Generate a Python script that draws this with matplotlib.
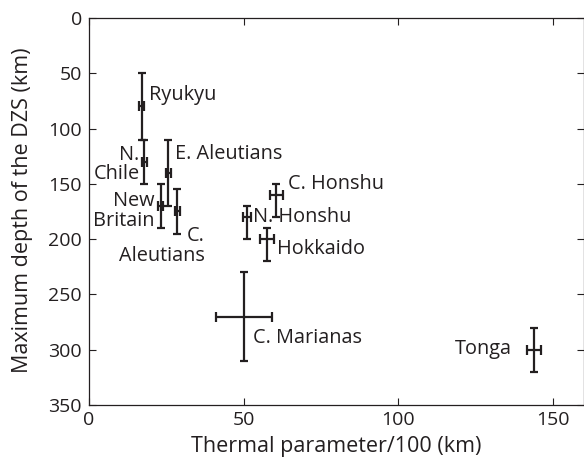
import matplotlib
matplotlib.use('Agg')
import matplotlib.pyplot as plt
import numpy as np

plt.rcParams['font.family'] = ['Open Sans', 'DejaVu Sans']

# subduction zones
names = ['Ryukyu', 'N. Chile', 'E. Aleutians', 'New Britain', 'C. Aleutians',
         'N. Honshu', 'C. Honshu', 'Hokkaido', 'C. Marianas', 'Tonga']
thermal = [17.1, 17.9, 25.6, 23.2, 28.6, 51.0, 60.6, 57.5, 50.0, 143.8]
thermal_err = [0.8, 0.8, 0.8, 0.8, 0.8, 1.3, 2.2, 2.2, 9.0, 2.3]
depth = [80, 130, 140, 170, 175, 180, 160, 200, 270, 300]
depth_lo = [50, 110, 110, 150, 155, 170, 150, 190, 230, 280]
depth_hi = [110, 150, 170, 190, 195, 200, 180, 220, 310, 320]

# label text, position, alignment
labels = ['Ryukyu', 'N.\nChile', 'E. Aleutians', 'New\nBritain', 'C.\nAleutians',
          'N. Honshu', 'C. Honshu', 'Hokkaido', 'C. Marianas', 'Tonga']
label_x = [19.5, 16.4, 27.8, 21.2, 37.3, 53.1, 64.4, 60.7, 53.0, 136.6]
label_y = [69.6, 132.5, 123, 174.5, 206, 180, 150, 209, 289, 299.5]
label_ha = ['left', 'right', 'left', 'right', 'right',
            'left', 'left', 'left', 'left', 'right']

ink = '#231f20'

fig = plt.figure(figsize=(5.84, 4.61), dpi=100)
ax = fig.add_axes([0.1524, 0.1215, 0.8476, 0.8395])

d = np.array(depth)
yerr = [d - np.array(depth_lo), np.array(depth_hi) - d]
# vertical bars (depth range) and horizontal bars (thermal parameter range)
ax.errorbar(thermal, depth, yerr=yerr, fmt='none',
            ecolor=ink, elinewidth=1.6, capsize=2.6, capthick=1.6)
ax.errorbar(thermal, depth, xerr=thermal_err, fmt='none',
            ecolor=ink, elinewidth=1.6, capsize=3.6, capthick=1.6)

for t, x, y, ha in zip(labels, label_x, label_y, label_ha):
    ax.text(x, y, t, ha=ha, va='center', multialignment=ha,
            fontsize=14.3, color=ink, linespacing=0.98)

ax.set_xlim(0, 160)
ax.set_ylim(350, 0)
ax.set_xticks([0, 50, 100, 150])
ax.set_yticks(np.arange(0, 351, 50))
ax.tick_params(direction='in', top=True, right=True, length=5, width=0.8,
               labelsize=14, colors=ink)
ax.tick_params(axis='x', pad=4)
ax.tick_params(axis='y', pad=5)
for s in ax.spines.values():
    s.set_color(ink)
    s.set_linewidth(0.9)

ax.set_xlabel('Thermal parameter/100 (km)', fontsize=15.5, color=ink)
ax.set_ylabel('Maximum depth of the DZS (km)', fontsize=15.5, color=ink)
ax.xaxis.label.set_va('center')
ax.yaxis.label.set_va('center')
ax.xaxis.set_label_coords(0.499, -0.1085)
ax.yaxis.set_label_coords(-0.135, 0.504)

fig.savefig('out.png', dpi=100)
